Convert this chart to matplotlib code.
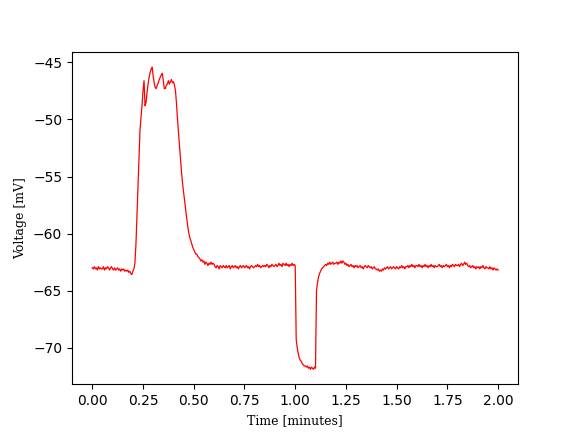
import numpy as np
import matplotlib
matplotlib.use('Agg')
import matplotlib.pyplot as plt

# Membrane voltage trace, one sample every 0.005 minutes (0 to 2 min)
voltage = [
    -63.0, -63.1, -62.9, -63.1, -63.0, -63.2, -62.9, -63.1, -63.0, -63.1,
    -63.1, -62.9, -63.2, -63.0, -63.1, -62.9, -63.0, -63.2, -63.0, -62.9,
    -63.1, -63.2, -63.0, -63.2, -63.1, -63.0, -63.2, -63.1, -63.3, -63.1,
    -63.2, -63.1, -63.3, -63.2, -63.3, -63.2, -63.4, -63.3, -63.5, -63.6,
    -63.3, -63.1, -62.6, -61.0, -58.5, -56.0, -53.3, -51.0, -49.8, -48.8,
    -47.5, -46.6, -48.8, -48.5, -47.6, -46.9, -46.3, -45.9, -45.6, -45.4,
    -46.2, -46.8, -47.2, -47.3, -47.0, -46.8, -46.5, -46.3, -46.1, -45.95,
    -46.6, -47.3, -47.3, -47.0, -46.9, -46.6, -46.9, -46.7, -46.5, -46.8,
    -46.7, -47.0, -47.5, -48.6, -50.0, -51.2, -52.3, -53.5, -54.7, -55.6,
    -56.4, -57.1, -57.9, -58.6, -59.3, -59.9, -60.3, -60.6, -60.9, -61.2,
    -61.4, -61.6, -61.8, -61.8, -62.0, -62.1, -62.2, -62.4, -62.3, -62.5,
    -62.4, -62.7, -62.5, -62.6, -62.8, -62.6, -62.7, -62.5, -62.7, -62.6,
    -62.7, -62.9, -63.0, -62.8, -62.9, -63.1, -62.8, -62.9, -63.0, -62.8,
    -62.9, -63.0, -62.8, -63.0, -62.9, -62.8, -63.1, -62.9, -62.8, -63.0,
    -62.9, -62.8, -63.0, -62.9, -63.1, -62.9, -62.8, -63.0, -62.9, -62.8,
    -63.0, -62.9, -62.8, -63.0, -62.9, -63.1, -62.9, -62.8, -62.9, -63.0,
    -62.9, -62.8, -62.9, -62.7, -62.9, -62.8, -63.0, -62.9, -62.8, -62.9,
    -62.8, -62.9, -62.7, -62.8, -63.0, -62.8, -62.9, -62.7, -62.8, -62.9,
    -62.8, -62.7, -62.9, -62.8, -62.6, -62.8, -62.7, -62.9, -62.6, -62.7,
    -62.8, -62.6, -62.8, -62.7, -62.9, -62.7, -62.8, -62.6, -62.8, -62.7,
    -62.8, -69.3, -70.0, -70.5, -70.9, -71.1, -71.2, -71.4, -71.5, -71.6,
    -71.6, -71.7, -71.6, -71.8, -71.7, -71.9, -71.7, -71.8, -71.9, -71.7,
    -71.8, -65.0, -64.3, -63.8, -63.5, -63.3, -63.1, -63.0, -62.9, -62.8,
    -62.7, -62.8, -62.6, -62.7, -62.5, -62.7, -62.6, -62.5, -62.7, -62.6,
    -62.6, -62.5, -62.7, -62.5, -62.6, -62.4, -62.6, -62.4, -62.5, -62.7,
    -62.6, -62.8, -62.7, -62.9, -62.8, -62.7, -62.9, -62.8, -63.0, -62.8,
    -62.9, -62.8, -63.0, -62.9, -62.8, -63.0, -62.9, -63.1, -62.9, -62.8,
    -62.9, -63.0, -62.8, -62.9, -63.0, -62.9, -63.1, -63.0, -62.9, -63.1,
    -63.1, -63.2, -63.1, -63.3, -63.2, -63.3, -63.1, -63.2, -63.0, -63.1,
    -63.0, -62.9, -63.1, -63.0, -62.9, -63.1, -63.0, -62.9, -63.0, -63.1,
    -62.9, -63.0, -63.1, -62.9, -63.0, -62.8, -63.0, -62.9, -63.1, -62.9,
    -62.9, -62.8, -63.0, -62.8, -62.9, -62.7, -62.9, -62.8, -63.0, -62.8,
    -62.8, -62.9, -62.7, -62.9, -62.8, -63.0, -62.8, -62.9, -62.7, -62.9,
    -62.8, -63.0, -62.8, -62.9, -62.7, -62.9, -62.8, -63.0, -62.8, -62.9,
    -62.9, -62.8, -62.7, -62.9, -62.8, -63.0, -62.8, -62.9, -62.8, -62.7,
    -62.9, -62.8, -63.0, -62.8, -62.9, -62.7, -62.8, -62.9, -62.7, -62.8,
    -62.8, -62.7, -62.9, -62.7, -62.6, -62.8, -62.7, -62.5, -62.7, -62.6,
    -62.8, -62.9, -62.8, -63.0, -62.9, -62.8, -63.0, -62.9, -63.1, -62.9,
    -63.0, -62.9, -63.1, -62.9, -63.0, -62.8, -63.0, -63.1, -62.9, -63.0,
    -63.0, -63.1, -62.9, -63.1, -63.0, -63.2, -63.0, -63.1, -63.2, -63.1,
    -63.2,
]
time_min = np.linspace(0, 2, len(voltage))

fig, ax = plt.subplots(figsize=(5.76, 4.32), dpi=100)
ax.plot(time_min, voltage, color='red', linewidth=0.9)
ax.set_xlabel('Time [minutes]', family='DejaVu Serif', fontsize=9)
ax.set_ylabel('Voltage [mV]', family='DejaVu Serif', fontsize=9)

plt.savefig('out.png', dpi=100)
